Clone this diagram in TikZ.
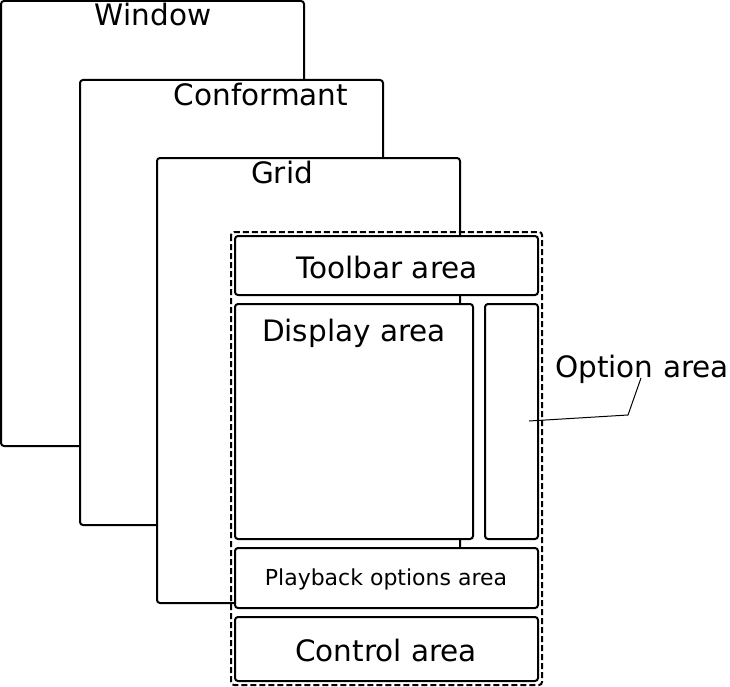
\documentclass[tikz,border=0pt]{standalone}
\usepackage{fontspec}
\setmainfont{DejaVu Sans}
\begin{document}
\begin{tikzpicture}[x=1bp,y=-1bp,
    layer/.style={draw=black,fill=white,line width=2bp,rounded corners=3bp},
    frame/.style={draw=black,line width=2bp,rounded corners=3bp,dash pattern=on 6bp off 3bp},
    big/.style={font=\fontsize{29.5bp}{34bp}\selectfont,anchor=base,inner sep=0pt},
    small/.style={font=\fontsize{22bp}{26bp}\selectfont,anchor=base,inner sep=0pt}]
      \useasboundingbox (0,0) rectangle (730,687);
      % stacked containers
      \draw[layer] (1,1) rectangle (304,446);
      \node[big] (window) at (153,26) {Window};
      \draw[layer] (80,80) rectangle (383,525);
      \node[big] (conformant) at (261,106) {Conformant};
      \draw[layer] (157,158) rectangle (460,603);
      \node[big] (grid) at (282,183) {Grid};
      \draw[frame] (231,232) rectangle (542,685);
      % areas inside the grid
      \draw[layer] (235,236) rectangle (538,295);
      \node[big] (toolbar) at (387,278) {Toolbar area};
      \draw[layer] (235,304) rectangle (473,539);
      \node[big] (display) at (354,341) {Display area};
      \draw[layer] (485,304) rectangle (538,539);
      \coordinate (optionin) at (529,421);
      \draw[layer] (235,548) rectangle (538,608);
      \node[small] (playback) at (386,585) {Playback options area};
      \draw[layer] (235,617) rectangle (538,681);
      \node[big] (control) at (386,661) {Control area};
      \node[big] (option) at (642,377) {Option area};
      \draw[line width=1bp] (optionin) -- (628,415) -- ([xshift=-1bp,yshift=-1bp]option.base);
    \end{tikzpicture}
\end{document}
